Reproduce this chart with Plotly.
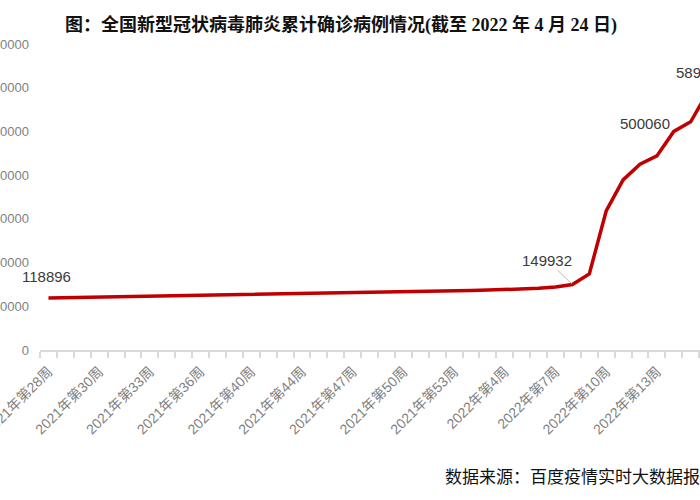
import plotly.graph_objects as go

# 周度累计确诊
weeks_shown = ["2021年第28周", "2021年第30周", "2021年第33周", "2021年第36周",
               "2021年第40周", "2021年第44周", "2021年第47周", "2021年第50周",
               "2021年第53周", "2022年第4周", "2022年第7周", "2022年第10周",
               "2022年第13周", "2022年第16周"]
cases = [118896, 119500, 120200, 120800, 121400, 122000, 122600, 123200,
         123800, 124400, 125000, 125600, 126200, 126800, 127400, 128000,
         128700, 129400, 130100, 130900, 131700, 132500, 133400, 134300,
         135200, 136100, 137000, 138000, 139200, 141000, 144300, 149932,
         174000, 318000, 389000, 425000, 444000, 500060, 522000, 589912]
label_idx = [0, 31, 37, 39]

x = list(range(len(cases)))
xr = [-0.5, 38.55]
W, H, L, T, B = 700, 500, 40, 44, 150
px_per_week = (W - L) / (xr[1] - xr[0])

fig = go.Figure()
fig.add_trace(go.Scatter(x=x, y=cases, mode="lines",
                         line=dict(color="#c00000", width=3.5),
                         hoverinfo="skip", showlegend=False))

lab_font = dict(family="Liberation Sans, Noto Sans CJK SC", size=15, color="#3a3a3a")
# 118896
fig.add_annotation(x=label_idx[0], y=cases[label_idx[0]], text=f"{cases[label_idx[0]]}",
                   showarrow=False, yshift=22, xshift=-2, font=lab_font)
# 149932 带引线
fig.add_annotation(x=label_idx[1], y=cases[label_idx[1]], text=f"{cases[label_idx[1]]}",
                   showarrow=True, arrowhead=0, arrowwidth=0.8, arrowcolor="#a6a6a6",
                   ax=-25, ay=-24, standoff=0, font=lab_font)
# 500060
fig.add_annotation(x=label_idx[2], y=cases[label_idx[2]], text=f"{cases[label_idx[2]]}",
                   showarrow=False, xshift=-29, yshift=8, font=lab_font)
# 最后一点在画面外：锚在右边界再平移
fig.add_annotation(x=xr[1], y=cases[label_idx[3]], text=f"{cases[label_idx[3]]}",
                   xshift=(label_idx[3] - xr[1]) * px_per_week - 7,
                   showarrow=False, yshift=20, font=lab_font)

# 标题与来源
fig.add_annotation(x=(341 - L) / (W - L), xref="paper", y=1, yref="paper", yshift=32,
                   text="<b>图：全国新型冠状病毒肺炎累计确诊病例情况(截至 2022 年 4 月 24 日)</b>",
                   showarrow=False, font=dict(family="Liberation Serif, Noto Sans CJK SC",
                                              size=18, color="#111111"))
fig.add_annotation(x=(443 - L) / (W - L), xref="paper", xanchor="left",
                   y=0, yref="paper", yshift=-139,
                   text="数据来源：百度疫情实时大数据报告", showarrow=False,
                   font=dict(family="Liberation Serif, Noto Sans CJK SC", size=17, color="#111111"))

fig.update_layout(
    width=W, height=H,
    margin=dict(l=L, r=0, t=T, b=B),
    plot_bgcolor="white", paper_bgcolor="white",
    xaxis=dict(range=xr, tickmode="array", tickvals=list(range(0, len(cases), 3)),
               ticktext=weeks_shown, tickangle=-45, ticks="", automargin=False,
               ticklabelstandoff=6, ticklabeloverflow="allow",
               tickfont=dict(family="Liberation Sans, Noto Sans CJK SC", size=14, color="#7f7f7f"),
               showline=True, linecolor="#d9d9d9", linewidth=1.5, showgrid=False, zeroline=False,
               minor=dict(ticks="outside", ticklen=6, tick0=-0.5, dtick=1,
                          tickcolor="#d9d9d9", tickwidth=1.5, showgrid=False)),
    yaxis=dict(range=[0, 700000], tickmode="linear", tick0=0, dtick=100000,
               tickformat="d", ticks="", showgrid=False, zeroline=False, showline=False,
               ticklabelstandoff=10, automargin=False, ticklabeloverflow="allow",
               tickfont=dict(family="Liberation Sans", size=13, color="#7f7f7f")),
)

# 去掉页面默认边距，让图贴齐窗口
fig.write_html("out.html", config={"displayModeBar": False},
               post_script="document.body.style.margin='0';")
